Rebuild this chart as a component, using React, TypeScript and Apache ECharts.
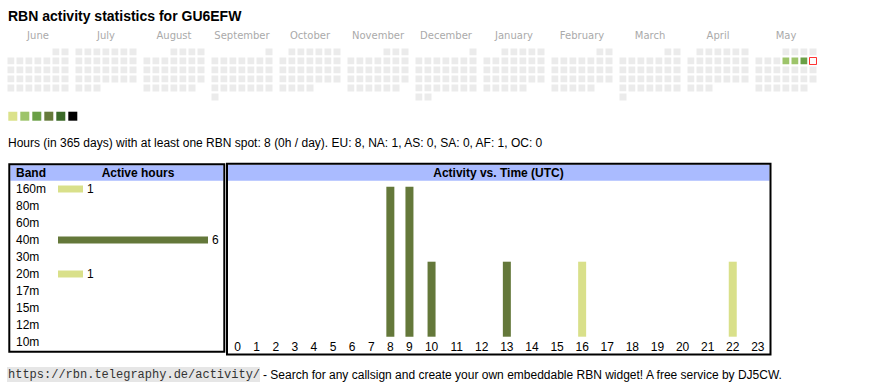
import React, { useEffect, useRef } from 'react';
import * as echarts from 'echarts';

const titleText = 'RBN activity statistics for GU6EFW';
const months = ['2024-06', '2024-07', '2024-08', '2024-09', '2024-10', '2024-11', '2024-12', '2025-01', '2025-02', '2025-03', '2025-04', '2025-05'];
const monthNames = ['June', 'July', 'August', 'September', 'October', 'November', 'December', 'January', 'February', 'March', 'April', 'May'];
// hours with at least one spot, per active day
const activeDays: [string, number][] = [['2025-05-08', 2], ['2025-05-09', 2], ['2025-05-10', 4]];
const today = '2025-05-11';
const levelColors = ['#dbe28b', '#9dc46a', '#6a9f46', '#657a3a', '#3b6a29', '#000000'];
const emptyColor = '#ebebeb';
const summaryText = 'Hours (in 365 days) with at least one RBN spot: 8 (0h / day). EU: 8, NA: 1, AS: 0, SA: 0, AF: 1, OC: 0';

const bands = ['160m', '80m', '60m', '40m', '30m', '20m', '17m', '15m', '12m', '10m'];
const bandHours = [1, 0, 0, 6, 0, 1, 0, 0, 0, 0];
const bandColors = ['#d9e08a', '#d9e08a', '#d9e08a', '#64783a', '#d9e08a', '#d9e08a', '#d9e08a', '#d9e08a', '#d9e08a', '#d9e08a'];

const hourLabels = ['0', '1', '2', '3', '4', '5', '6', '7', '8', '9', '10', '11', '12', '13', '14', '15', '16', '17', '18', '19', '20', '21', '22', '23'];
const hours40m = [0, 0, 0, 0, 0, 0, 0, 0, 2, 2, 1, 0, 0, 1, 0, 0, 0, 0, 0, 0, 0, 0, 0, 0];
const hours20m = [0, 0, 0, 0, 0, 0, 0, 0, 0, 0, 0, 0, 0, 0, 0, 0, 1, 0, 0, 0, 0, 0, 0, 0];
const hours160m = [0, 0, 0, 0, 0, 0, 0, 0, 0, 0, 0, 0, 0, 0, 0, 0, 0, 0, 0, 0, 0, 0, 1, 0];

const footerUrl = 'https://rbn.telegraphy.de/activity/';
const footerText = '- Search for any callsign and create your own embeddable RBN widget! A free service by DJ5CW.';

const SANS = '"Liberation Sans", Arial, sans-serif';
const MONO = '"Liberation Mono", "Courier New", monospace';

function monthDays(ym: string): [string, number][] {
  const [y, m] = ym.split('-').map(Number);
  const n = new Date(y, m, 0).getDate();
  const out: [string, number][] = [];
  for (let d = 1; d <= n; d++) {
    const ds = `${ym}-${String(d).padStart(2, '0')}`;
    const hit = activeDays.find((a) => a[0] === ds);
    out.push([ds, hit ? hit[1] : 0]);
  }
  return out;
}

// HTML-table-like column widths for the hour axis (depend on label length)
const colWidths = hourLabels.map((l) => 13.1 + 6 * l.length);
const colCenters: number[] = [];
{
  let acc = 0;
  colWidths.forEach((w) => {
    colCenters.push(acc + w / 2);
    acc += w;
  });
}
const hourAxisMax = colWidths.reduce((a, b) => a + b, 0);

function buildOption(): any {
  const calLeft0 = 6.5;
  const calPitch = 68;
  const calTop = 47.5;
  const calendars = months.map((m, i) => ({
    orient: 'vertical',
    range: m,
    left: calLeft0 + calPitch * i,
    top: calTop,
    cellSize: [9, 9],
    splitLine: { show: false },
    itemStyle: { color: 'transparent', borderWidth: 0 },
    dayLabel: { show: false, firstDay: 1 },
    monthLabel: { show: false },
    yearLabel: { show: false },
  }));
  const heatSeries = months.map((m, i) => ({
    type: 'heatmap',
    coordinateSystem: 'calendar',
    calendarIndex: i,
    data: monthDays(m),
    itemStyle: { borderColor: '#fff', borderWidth: 2 },
    emphasis: { disabled: true },
  }));

  const graphics: any[] = [];
  graphics.push({
    type: 'text', x: 8, y: 16,
    style: { text: titleText, font: `bold 14px ${SANS}`, fill: '#000', textAlign: 'left', textVerticalAlign: 'middle' },
  });
  monthNames.forEach((name, i) => {
    graphics.push({
      type: 'text', x: calLeft0 + calPitch * i + 31.5, y: 35,
      style: { text: name, font: `10px "DejaVu Sans", Verdana, sans-serif`, fill: '#aaaaaa', textAlign: 'center', textVerticalAlign: 'middle' },
    });
  });
  levelColors.forEach((c, i) => {
    graphics.push({ type: 'rect', shape: { x: 8.3 + 12 * i, y: 111.7, width: 9, height: 9 }, style: { fill: c } });
  });
  graphics.push({
    type: 'text', x: 8, y: 142.5,
    style: { text: summaryText, font: `12px ${SANS}`, fill: '#000', textAlign: 'left', textVerticalAlign: 'middle' },
  });
  // band table frame
  graphics.push({ type: 'rect', shape: { x: 10.3, y: 165.3, width: 213, height: 15.4 }, style: { fill: '#aabbff' } });
  graphics.push({ type: 'rect', shape: { x: 9.3, y: 164.3, width: 215, height: 187.4 }, style: { fill: 'none', stroke: '#000', lineWidth: 2 } });
  graphics.push({ type: 'text', x: 16, y: 173, style: { text: 'Band', font: `bold 12px ${SANS}`, fill: '#000', textAlign: 'left', textVerticalAlign: 'middle' } });
  graphics.push({ type: 'text', x: 138, y: 173, style: { text: 'Active hours', font: `bold 12px ${SANS}`, fill: '#000', textAlign: 'center', textVerticalAlign: 'middle' } });
  // activity table frame
  graphics.push({ type: 'rect', shape: { x: 228, y: 164.7, width: 541.5, height: 16 }, style: { fill: '#aabbff' } });
  graphics.push({ type: 'rect', shape: { x: 227, y: 163.7, width: 543.5, height: 190.8 }, style: { fill: 'none', stroke: '#000', lineWidth: 2 } });
  graphics.push({ type: 'text', x: 498.5, y: 173, style: { text: 'Activity vs. Time (UTC)', font: `bold 12px ${SANS}`, fill: '#000', textAlign: 'center', textVerticalAlign: 'middle' } });
  // footer
  graphics.push({ type: 'rect', shape: { x: 7, y: 367, width: 253, height: 15 }, style: { fill: '#e6e6e6' } });
  graphics.push({ type: 'text', x: 8, y: 374.5, style: { text: footerUrl, font: `12px ${MONO}`, fill: '#333', textAlign: 'left', textVerticalAlign: 'middle' } });
  graphics.push({ type: 'text', x: 263, y: 374.5, style: { text: footerText, font: `12px ${SANS}`, fill: '#000', textAlign: 'left', textVerticalAlign: 'middle' } });

  const hourBar = (name: string, vals: number[], color: string) => ({
    name,
    type: 'bar',
    xAxisIndex: 1,
    yAxisIndex: 1,
    stack: 'hours',
    barWidth: 8,
    data: vals.map((v, i) => [colCenters[i], v]),
    itemStyle: { color },
    emphasis: { disabled: true },
  });

  return {
    animation: false,
    backgroundColor: '#fff',
    calendar: calendars,
    visualMap: {
      type: 'piecewise',
      show: false,
      seriesIndex: months.map((_, i) => i),
      pieces: [
        { min: 0, max: 0, color: emptyColor },
        { min: 1, max: 1, color: levelColors[0] },
        { min: 2, max: 3, color: levelColors[1] },
        { min: 4, max: 7, color: levelColors[2] },
        { min: 8, max: 15, color: levelColors[3] },
        { min: 16, max: 23, color: levelColors[4] },
        { min: 24, color: levelColors[5] },
      ],
    },
    grid: [
      { left: 58, top: 180.5, width: 150, height: 170 },
      { left: 228, top: 186.7, width: hourAxisMax, height: 150 },
    ],
    xAxis: [
      { gridIndex: 0, type: 'value', min: 0, max: 6, show: false },
      {
        gridIndex: 1, type: 'value', min: 0, max: hourAxisMax,
        axisLine: { show: false }, axisTick: { show: false }, splitLine: { show: false },
        axisLabel: {
          customValues: colCenters,
          formatter: (v: number) => {
            let best = 0;
            colCenters.forEach((c, i) => { if (Math.abs(c - v) < Math.abs(colCenters[best] - v)) best = i; });
            return hourLabels[best];
          },
          margin: 4, fontSize: 12, fontFamily: SANS, color: '#000',
        },
      },
    ],
    yAxis: [
      {
        gridIndex: 0, type: 'category', data: bands, inverse: true,
        axisLine: { show: false }, axisTick: { show: false }, splitLine: { show: false },
        axisLabel: { align: 'left', margin: 42, fontSize: 12, fontFamily: SANS, color: '#000' },
      },
      { gridIndex: 1, type: 'value', min: 0, max: 2, show: false },
    ],
    graphic: graphics,
    series: [
      ...heatSeries,
      {
        type: 'scatter',
        coordinateSystem: 'calendar',
        calendarIndex: 11,
        data: [[today, 0]],
        symbol: 'rect',
        symbolSize: 7,
        itemStyle: { color: '#fff', borderColor: '#ff0000', borderWidth: 1 },
        emphasis: { disabled: true },
      },
      {
        type: 'bar',
        xAxisIndex: 0,
        yAxisIndex: 0,
        barWidth: 7,
        data: bandHours.map((v, i) => ({ value: v, itemStyle: { color: bandColors[i] } })),
        label: {
          show: true, position: 'right', distance: 4, fontSize: 12, fontFamily: SANS, color: '#000',
          formatter: (p: any) => (p.value ? String(p.value) : ''),
        },
        emphasis: { disabled: true },
      },
      hourBar('40m', hours40m, '#64783a'),
      hourBar('20m', hours20m, '#d9e08a'),
      hourBar('160m', hours160m, '#d9e08a'),
    ],
  };
}

export default function App() {
  const ref = useRef<HTMLDivElement>(null);
  useEffect(() => {
    const chart = echarts.init(ref.current!, null, { renderer: 'svg' });
    chart.setOption(buildOption());
    return () => chart.dispose();
  }, []);
  return <div ref={ref} style={{ position: 'absolute', left: 0, top: 0, width: 870, height: 390, background: '#fff' }} />;
}
